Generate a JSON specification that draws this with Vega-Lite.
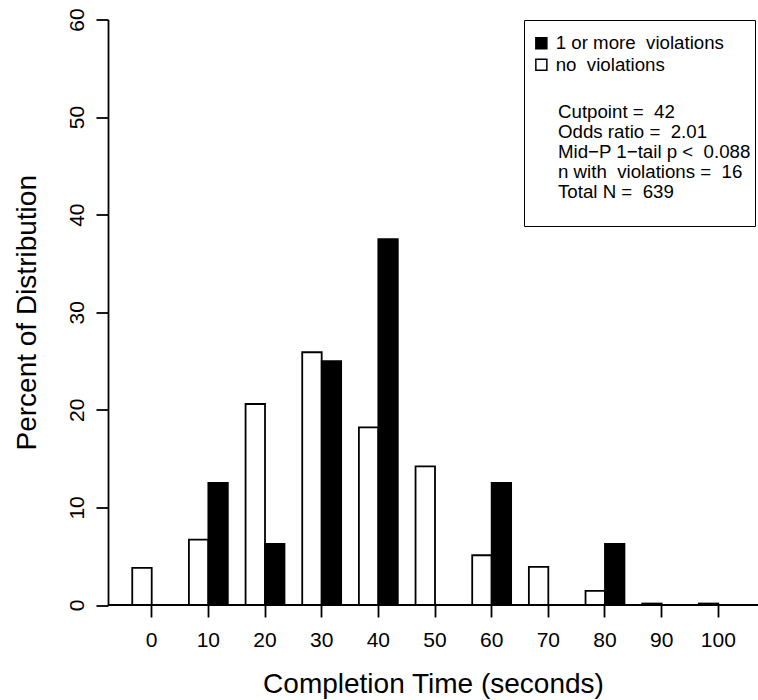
{
  "$schema": "https://vega.github.io/schema/vega-lite/v6.json",
  "width": 650,
  "height": 585.5,
  "autosize": {"type": "none"},
  "padding": {"left": 108, "top": 19.5, "right": 0, "bottom": 95},
  "background": "white",
  "config": {
    "font": "Liberation Sans",
    "view": {"stroke": null},
    "axis": {"grid": false, "labelColor": "black", "titleColor": "black", "labelFont": "Liberation Sans", "titleFont": "Liberation Sans", "titleFontWeight": "normal"},
    "legend": {"labelFont": "Liberation Sans", "titleFont": "Liberation Sans"}
  },
  "data": {
    "values": [
      {"time": 0, "status": "no\u00a0 violations", "pct": 3.8},
      {"time": 10, "status": "no\u00a0 violations", "pct": 6.7},
      {"time": 20, "status": "no\u00a0 violations", "pct": 20.6},
      {"time": 30, "status": "no\u00a0 violations", "pct": 25.9},
      {"time": 40, "status": "no\u00a0 violations", "pct": 18.2},
      {"time": 50, "status": "no\u00a0 violations", "pct": 14.2},
      {"time": 60, "status": "no\u00a0 violations", "pct": 5.1},
      {"time": 70, "status": "no\u00a0 violations", "pct": 3.9},
      {"time": 80, "status": "no\u00a0 violations", "pct": 1.45},
      {"time": 90, "status": "no\u00a0 violations", "pct": 0.15},
      {"time": 100, "status": "no\u00a0 violations", "pct": 0.15},
      {"time": 0, "status": "1 or more\u00a0 violations", "pct": 0},
      {"time": 10, "status": "1 or more\u00a0 violations", "pct": 12.5},
      {"time": 20, "status": "1 or more\u00a0 violations", "pct": 6.25},
      {"time": 30, "status": "1 or more\u00a0 violations", "pct": 25},
      {"time": 40, "status": "1 or more\u00a0 violations", "pct": 37.5},
      {"time": 50, "status": "1 or more\u00a0 violations", "pct": 0},
      {"time": 60, "status": "1 or more\u00a0 violations", "pct": 12.5},
      {"time": 70, "status": "1 or more\u00a0 violations", "pct": 0},
      {"time": 80, "status": "1 or more\u00a0 violations", "pct": 6.25},
      {"time": 90, "status": "1 or more\u00a0 violations", "pct": 0},
      {"time": 100, "status": "1 or more\u00a0 violations", "pct": 0}
    ]
  },
  "layer": [
    {
      "mark": {"type": "bar", "stroke": "black", "strokeWidth": 1.8, "strokeJoin": "miter"},
      "encoding": {
        "x": {
          "field": "time",
          "type": "ordinal",
          "scale": {"paddingInner": 0.3134, "paddingOuter": 0.3927, "align": 0.545},
          "axis": {
            "title": "Completion Time (seconds)",
            "titleFontSize": 28,
            "titlePadding": 20,
            "labelFontSize": 21,
            "labelAngle": 0,
            "labelPadding": 12,
            "domain": false,
            "ticks": true,
            "tickSize": 12,
            "tickWidth": 1.8,
            "tickColor": "black"
          }
        },
        "xOffset": {
          "field": "status",
          "type": "nominal",
          "scale": {"domain": ["no\u00a0 violations", "1 or more\u00a0 violations"]}
        },
        "y": {
          "field": "pct",
          "type": "quantitative",
          "scale": {"domain": [0, 60], "nice": false},
          "axis": {
            "title": "Percent of Distribution",
            "titleFontSize": 28,
            "titlePadding": 25,
            "values": [0, 10, 20, 30, 40, 50, 60],
            "labelFontSize": 21,
            "labelAngle": -90,
            "labelPadding": 9,
            "domain": true,
            "domainColor": "black",
            "domainWidth": 1.8,
            "tickSize": 12,
            "tickWidth": 1.8,
            "tickColor": "black"
          }
        },
        "fill": {
          "field": "status",
          "type": "nominal",
          "scale": {"domain": ["1 or more\u00a0 violations", "no\u00a0 violations"], "range": ["black", "white"]},
          "legend": {
            "orient": "none",
            "legendX": 416,
            "legendY": 0.5,
            "direction": "vertical",
            "symbolType": "square",
            "symbolSize": 121,
            "symbolOffset": 4,
            "symbolStrokeColor": "black",
            "symbolStrokeWidth": 1.5,
            "labelFontSize": 18.7,
            "labelOffset": 5,
            "labelLimit": 400,
            "labelColor": "black",
            "rowPadding": 1.3,
            "padding": 4,
            "strokeColor": "black",
            "fillColor": "white",
            "title": ["Cutpoint =\u00a0 42", "Odds ratio =\u00a0 2.01", "Mid\u2212P 1\u2212tail p <\u00a0 0.088", "n with\u00a0 violations =\u00a0 16", "Total N =\u00a0 639", "\u00a0"],
            "titleOrient": "bottom",
            "titleAnchor": "start",
            "titleAlign": "left",
            "titleFontSize": 18.7,
            "titleFontWeight": "normal",
            "titleColor": "black",
            "titleLineHeight": 20,
            "titlePadding": 28.7,
            "titleLimit": 500,
            "encode": {
              "title": {"update": {"dx": {"value": 30}}},
              "labels": {"update": {"dy": [{"test": "datum.value[0] === '1'", "value": 10}, {"value": 0}]}},
              "symbols": {"update": {"shape": [{"test": "datum.value[0] === '1'", "value": "M-1,0.818H1V2.818H-1Z"}, {"value": "square"}]}}
            }
          }
        }
      }
    },
    {
      "mark": {"type": "rule", "color": "black", "strokeWidth": 1.8},
      "encoding": {"y": {"datum": 0, "type": "quantitative"}}
    }
  ]
}
